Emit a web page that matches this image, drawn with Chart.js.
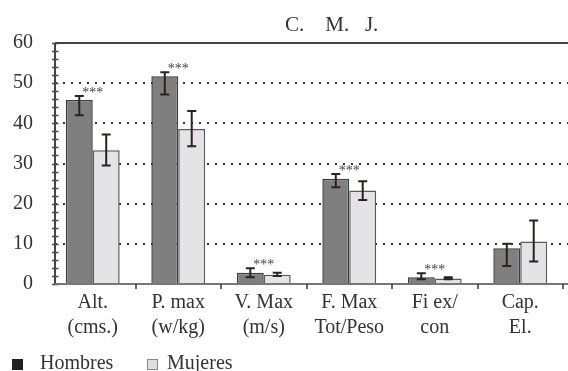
<!DOCTYPE html>
<html>
<head>
<meta charset="utf-8">
<script src="https://cdn.jsdelivr.net/npm/chart.js@4"></script>
<style>
  body { margin: 0; background: #fff; }
  canvas { display: block; }
</style>
</head>
<body>
<canvas id="chart" width="568" height="371"></canvas>
<script>
const categories = [['Alt.', '(cms.)'], ['P. max', '(w/kg)'], ['V. Max', '(m/s)'], ['F. Max', 'Tot/Peso'], ['Fi ex/', 'con'], ['Cap.', 'El.']];
const hombres = [45.8, 51.7, 2.8, 26.2, 1.7, 8.9];
const mujeres = [33.3, 38.6, 2.3, 23.3, 1.4, 10.6];
const hombresLow = [42.0, 47.2, 1.7, 24.1, 1.2, 4.5];
const hombresHigh = [46.8, 52.7, 3.9, 27.4, 2.7, 10.0];
const mujeresLow = [29.5, 34.3, 2.0, 20.9, 1.2, 5.6];
const mujeresHigh = [37.2, 43.1, 2.8, 25.6, 1.7, 15.8];
const signif = ['***', '***', '***', '***', '***', ''];
const yTicks = [0, 10, 20, 30, 40, 50, 60];
const yMinorStep = 2;

const serif = '"Liberation Serif", "Times New Roman", serif';
const textColor = '#333';

// gridlines, axes, error bars, stars, title and legend
const framePlugin = {
    id: 'frame',
    beforeDatasetsDraw(chart) {
        const { ctx, chartArea, scales: { y } } = chart;
        const axisX = chartArea.left + 5;
        ctx.save();
        ctx.strokeStyle = '#333';
        ctx.lineWidth = 2;
        ctx.setLineDash([2, 6]);
        yTicks.slice(1, -1).forEach(v => {
            const py = Math.round(y.getPixelForValue(v));
            ctx.beginPath();
            ctx.moveTo(axisX, py);
            ctx.lineTo(chart.width, py);
            ctx.stroke();
        });
        ctx.setLineDash([]);
        ctx.strokeStyle = '#444';
        const top = Math.round(y.getPixelForValue(yTicks[yTicks.length - 1]));
        ctx.beginPath();
        ctx.moveTo(axisX, top);
        ctx.lineTo(chart.width, top);
        ctx.stroke();
        ctx.restore();
    },
    afterDatasetsDraw(chart) {
        const { ctx, chartArea, scales: { x, y } } = chart;
        const axisX = chartArea.left + 5;
        const zero = y.getPixelForValue(0);
        ctx.save();

        // error bars
        ctx.strokeStyle = '#2b2222';
        ctx.lineWidth = 2;
        chart.data.datasets.forEach((ds, i) => {
            chart.getDatasetMeta(i).data.forEach((bar, j) => {
                const lo = y.getPixelForValue(ds.errLow[j]);
                const hi = y.getPixelForValue(ds.errHigh[j]);
                ctx.beginPath();
                ctx.moveTo(bar.x, lo); ctx.lineTo(bar.x, hi);
                ctx.moveTo(bar.x - 4.5, lo); ctx.lineTo(bar.x + 4.5, lo);
                ctx.moveTo(bar.x - 4.5, hi); ctx.lineTo(bar.x + 4.5, hi);
                ctx.stroke();
            });
        });

        // significance stars
        ctx.fillStyle = '#444';
        ctx.font = '14px ' + serif;
        ctx.textAlign = 'center';
        ctx.textBaseline = 'middle';
        signif.forEach((s, j) => {
            if (!s) return;
            const cx = x.getPixelForValue(j);
            const py = y.getPixelForValue(hombresHigh[j]) - 3;
            ctx.fillText(s, cx, py);
        });

        // y axis with major and minor ticks
        ctx.strokeStyle = '#444';
        ctx.lineWidth = 2;
        const top = y.getPixelForValue(yTicks[yTicks.length - 1]);
        ctx.beginPath();
        ctx.moveTo(axisX, top);
        ctx.lineTo(axisX, zero);
        ctx.stroke();
        ctx.lineWidth = 1.5;
        for (let v = 0; v <= 60; v += yMinorStep) {
            const py = Math.round(y.getPixelForValue(v)) + 0.5;
            ctx.beginPath();
            ctx.moveTo(axisX - 3, py);
            ctx.lineTo(axisX + 3.5, py);
            ctx.stroke();
        }

        // x axis
        ctx.strokeStyle = '#777';
        ctx.lineWidth = 2;
        ctx.beginPath();
        ctx.moveTo(axisX, zero);
        ctx.lineTo(chart.width, zero);
        ctx.stroke();
        ctx.strokeStyle = '#333';
        ctx.lineWidth = 1.5;
        const step = (chartArea.right - chartArea.left) / categories.length;
        for (let k = 1; k <= categories.length; k++) {
            const px = Math.round(chartArea.left + k * step);
            ctx.beginPath();
            ctx.moveTo(px, zero);
            ctx.lineTo(px, zero + 5);
            ctx.stroke();
        }

        // title
        ctx.fillStyle = textColor;
        ctx.font = '21px ' + serif;
        ctx.textAlign = 'left';
        ctx.textBaseline = 'alphabetic';
        ctx.fillText('C.    M.   J.', 285, 31);

        // legend
        ctx.font = '20px ' + serif;
        ctx.fillStyle = '#222';
        ctx.fillRect(12, 359, 11, 11);
        ctx.fillStyle = '#dedede';
        ctx.fillRect(147, 359, 11, 11);
        ctx.strokeStyle = '#888';
        ctx.lineWidth = 1;
        ctx.strokeRect(147.5, 359.5, 10, 10);
        ctx.fillStyle = textColor;
        ctx.fillText(chart.data.datasets[0].label, 40, 369);
        ctx.fillText(chart.data.datasets[1].label, 167, 369);

        ctx.restore();
    }
};

const ctx = document.getElementById('chart').getContext('2d');
const chart = new Chart(ctx, {
    type: 'bar',
    data: {
        labels: categories,
        datasets: [{
            label: 'Hombres',
            data: hombres,
            errLow: hombresLow,
            errHigh: hombresHigh,
            backgroundColor: '#7f7f7f',
            borderColor: '#3c3c3c',
            borderWidth: 1.5
        }, {
            label: 'Mujeres',
            data: mujeres,
            errLow: mujeresLow,
            errHigh: mujeresHigh,
            backgroundColor: '#e4e4e6',
            borderColor: '#5a5a5a',
            borderWidth: 1.5
        }]
    },
    options: {
        responsive: false,
        animation: false,
        devicePixelRatio: 1,
        layout: { padding: { left: 8, right: 5, top: 43, bottom: 25 } },
        datasets: { bar: { barPercentage: 1, categoryPercentage: 0.63 } },
        plugins: {
            legend: { display: false },
            title: { display: false },
            tooltip: { enabled: false }
        },
        scales: {
            x: {
                grid: { display: false, drawTicks: false },
                border: { display: false },
                ticks: {
                    color: textColor,
                    padding: 6,
                    maxRotation: 0,
                    autoSkip: false,
                    font: { family: serif, size: 20, lineHeight: 1.25 }
                }
            },
            y: {
                min: 0,
                max: 60,
                afterBuildTicks: s => { s.ticks = yTicks.map(v => ({ value: v })); },
                afterFit: s => { s.width = 42; },
                grid: { display: false, drawTicks: false },
                border: { display: false },
                ticks: {
                    color: textColor,
                    padding: 17,
                    font: { family: serif, size: 20 }
                }
            }
        }
    },
    plugins: [framePlugin]
});
</script>
</body>
</html>
